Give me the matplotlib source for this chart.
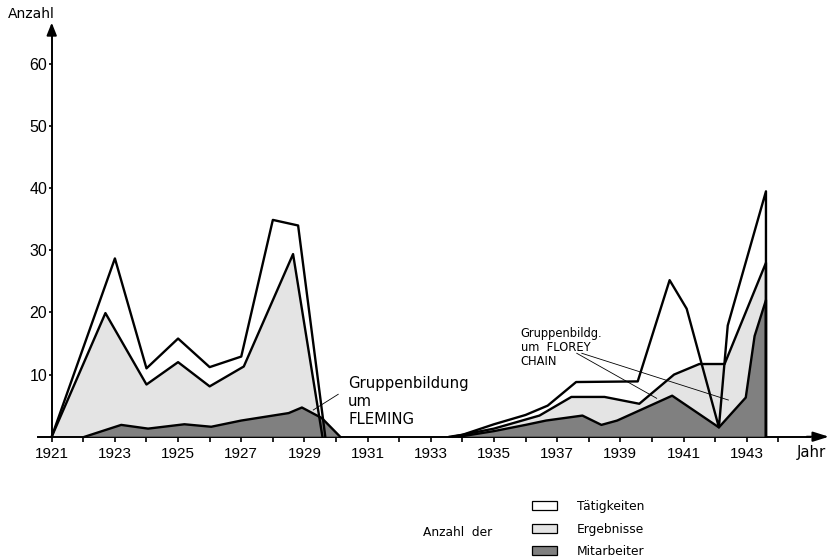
import numpy as np
import matplotlib
matplotlib.use("Agg")
import matplotlib.pyplot as plt
from matplotlib.patches import Patch
from matplotlib.ticker import FixedLocator

nan = np.nan

# two phases (Fleming / Florey), separated by nan
jahre_taetigkeiten = [1921, 1923.0, 1924.0, 1925.0, 1926.0, 1927.0, 1928.0, 1928.8, 1929.66, nan,
                      1933.6, 1934.0, 1935.0, 1936.0, 1936.7, 1937.6, 1939.55, 1940.56, 1941.1,
                      1942.12, 1942.4, 1943.61, 1943.61]
taetigkeiten = [0, 28.7, 11.0, 15.8, 11.2, 12.9, 34.9, 34.0, 0, nan,
                0, 0.3, 2.0, 3.5, 5.0, 8.8, 8.9, 25.2, 20.6,
                1.5, 17.9, 39.5, 0]

jahre_ergebnisse = [1921, 1922.7, 1924.0, 1925.0, 1926.0, 1927.08, 1928.64, 1929.57, nan,
                    1933.7, 1935.0, 1936.44, 1937.45, 1938.5, 1939.6, 1940.7, 1941.5, 1942.3,
                    1943.61, 1943.61]
ergebnisse = [0, 19.9, 8.4, 12.0, 8.1, 11.3, 29.4, 0, nan,
              0, 1.3, 3.4, 6.4, 6.4, 5.3, 10.0, 11.7, 11.7,
              28.0, 0]

jahre_mitarbeiter = [1922.05, 1923.2, 1924.05, 1925.2, 1926.05, 1927.0, 1928.5, 1928.92, 1929.55, 1930.13, nan,
                     1933.9, 1935.0, 1936.0, 1936.65, 1937.8, 1938.4, 1938.9, 1940.64, 1942.12,
                     1942.97, 1943.25, 1943.61, 1943.61]
mitarbeiter = [0, 1.9, 1.3, 2.0, 1.6, 2.6, 3.8, 4.7, 3.0, 0, nan,
               0, 0.9, 1.9, 2.6, 3.4, 1.9, 2.6, 6.6, 1.5,
               6.3, 16.2, 22.0, 0]

labels = ["Tätigkeiten", "Ergebnisse", "Mitarbeiter"]
colorMap = ["white", "#e4e4e4", "#808080"]

plt.rcParams['font.family'] = 'DejaVu Sans'

fig = plt.figure(figsize=(8.3, 5.6), dpi=100)
ax = fig.add_axes([0, 0, 1, 1])
ax.set_xlim(1919.363, 1945.637)
ax.set_ylim(-19.85, 70.30)

series = [(jahre_taetigkeiten, taetigkeiten), (jahre_ergebnisse, ergebnisse), (jahre_mitarbeiter, mitarbeiter)]
for i, (x, y) in enumerate(series):
    x = np.ma.masked_invalid(np.array(x))
    y = np.ma.masked_invalid(np.array(y))
    ax.fill_between(x, y, 0, facecolor=colorMap[i], linewidth=0, zorder=1 + i)
for x, y in series:
    ax.plot(x, y, color='black', linewidth=1.7, zorder=5)

# axes with arrows
for side in ['top', 'right']:
    ax.spines[side].set_visible(False)
ax.spines['left'].set_position(('data', 1921))
ax.spines['bottom'].set_position(('data', 0))
ax.spines['left'].set_bounds(0, 65)
ax.spines['bottom'].set_bounds(1920.566, 1945.0)
ax.spines['left'].set_linewidth(1.4)
ax.spines['bottom'].set_linewidth(1.4)
ax.annotate('', xy=(1921, 66.65), xytext=(1921, 64.5),
            arrowprops=dict(arrowstyle='-|>,head_length=0.75,head_width=0.3', color='black', lw=1.4,
                            shrinkA=0, shrinkB=0))
ax.annotate('', xy=(1945.6, 0), xytext=(1944.9, 0), annotation_clip=False,
            arrowprops=dict(arrowstyle='-|>,head_length=0.95,head_width=0.3', color='black', lw=1.4,
                            shrinkA=0, shrinkB=0))

ax.set_xticks(range(1921, 1944, 2))
ax.xaxis.set_minor_locator(FixedLocator(range(1922, 1945, 2)))
ax.set_yticks(range(10, 61, 10))
ax.tick_params(axis='x', which='both', direction='out', length=3.6, width=1.2, pad=3.5,
               labelsize=11, labelfontfamily='Liberation Sans')
ax.tick_params(axis='y', direction='out', length=2.5, width=1.2, pad=0.8,
               labelsize=11.5, labelfontfamily='Liberation Sans')

ax.text(1920.34, 68.05, "Anzahl", ha='center', va='center', fontsize=10)
ax.text(1945.06, -2.62, "Jahr", ha='center', va='center', fontsize=10.7)

# annotations
ax.text(1930.38, 5.63, "Gruppenbildung\num\nFLEMING", ha='left', va='center', fontsize=10.7, linespacing=1.25)
ax.plot([1930.07, 1929.28], [6.83, 4.30], color='black', linewidth=0.6, zorder=6)
ax.text(1935.84, 14.33, "Gruppenbildg.\num  FLOREY\nCHAIN", ha='left', va='center', fontsize=8.3, linespacing=1.1)
ax.plot([1937.62, 1940.15], [13.43, 6.18], color='black', linewidth=0.6, zorder=6)
ax.plot([1937.78, 1942.42], [13.43, 5.9], color='black', linewidth=0.6, zorder=6)

# legend
handles = [Patch(facecolor=colorMap[i], edgecolor='black', linewidth=0.9) for i in range(3)]
ax.legend(handles, labels, loc='upper left', bbox_to_anchor=(531.7 / 830, 1 - 500 / 560),
          bbox_transform=fig.transFigure, frameon=False, fontsize=8.8, borderpad=0, borderaxespad=0,
          handlelength=2.05, handleheight=0.78, handletextpad=1.64, labelspacing=0.78)
ax.text(1932.76, -15.45, "Anzahl  der", ha='left', va='center', fontsize=8.8)

fig.savefig("out.png", dpi=100)
